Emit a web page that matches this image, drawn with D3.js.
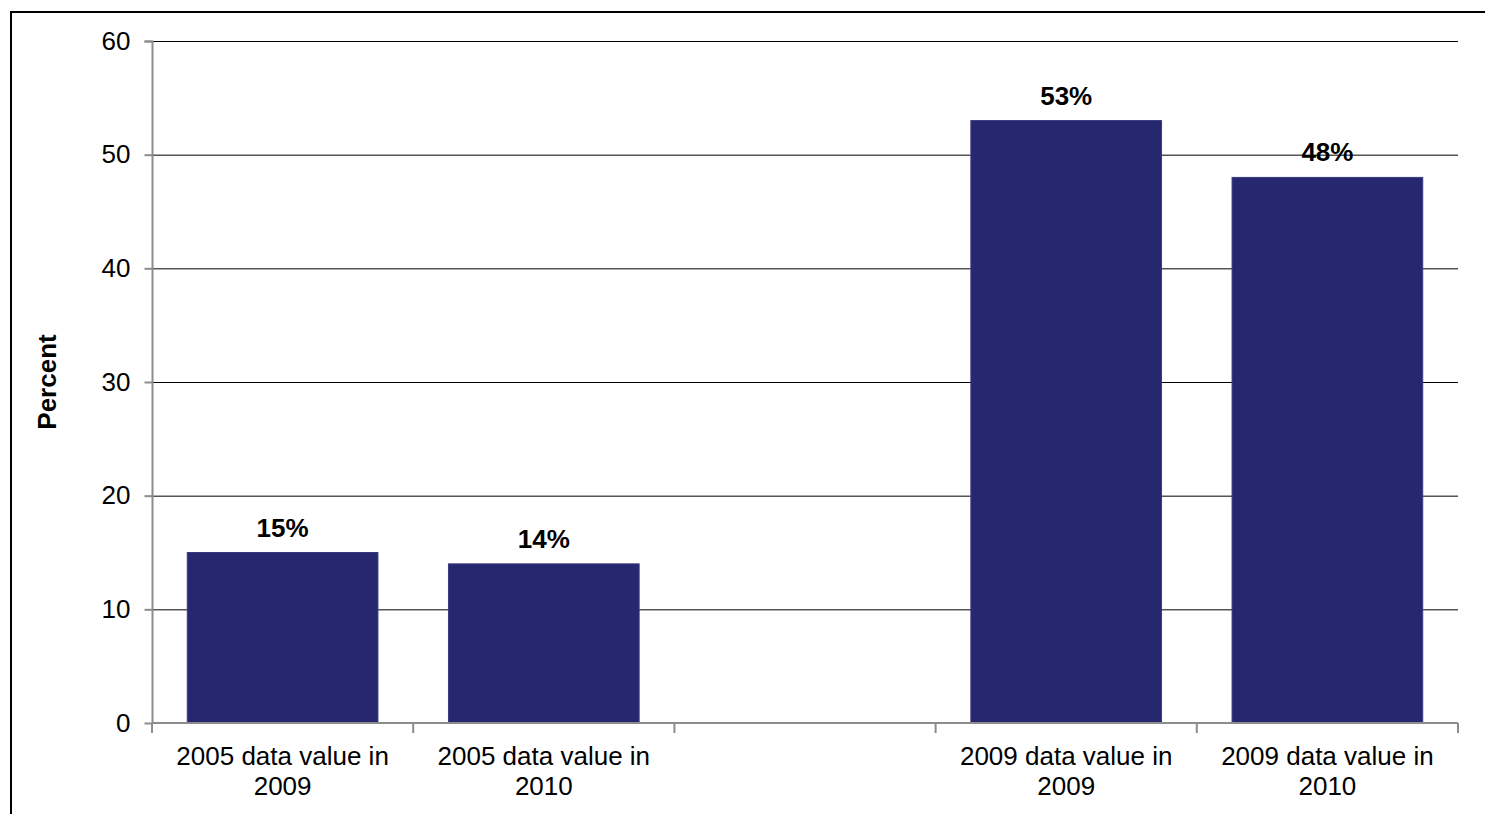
<!DOCTYPE html>
<html>
<head>
<meta charset="utf-8">
<script src="https://cdn.jsdelivr.net/npm/d3@7"></script>
<style>
  html, body { margin: 0; padding: 0; background: #fff; }
  svg { display: block; font-family: "Liberation Sans", Arial, sans-serif; }
</style>
</head>
<body>
<svg id="chart" width="1485" height="814"></svg>
<script>
// Category slots along the x axis (the middle slot is intentionally empty)
const categories = [
  ["2005 data value in", "2009"],
  ["2005 data value in", "2010"],
  ["", ""],
  ["2009 data value in", "2009"],
  ["2009 data value in", "2010"]
];
const values = [15, 14, null, 53, 48];
const yTicks = [0, 10, 20, 30, 40, 50, 60];

const FS = 26;
const svg = d3.select("#chart");
const margin = { left: 152, right: 27, top: 41, bottom: 91 };
const W = 1485, H = 814;
const x0 = margin.left, x1 = W - margin.right;
const y0 = H - margin.bottom, y1 = margin.top;

// outer frame (left and top edges visible)
svg.append("path")
  .attr("d", `M11,${H} L11,12 L${W},12`)
  .attr("fill", "none").attr("stroke", "#000").attr("stroke-width", 2);

const x = d3.scaleBand().domain(d3.range(categories.length)).range([x0, x1]).padding(0);
const y = d3.scaleLinear().domain([0, 60]).range([y0, y1]);

// horizontal gridlines
svg.append("g").selectAll("line")
  .data(yTicks.filter(t => t > 0))
  .join("line")
  .attr("x1", x0).attr("x2", x1)
  .attr("y1", d => y(d) + 0.5).attr("y2", d => y(d) + 0.5)
  .attr("stroke", "#000").attr("stroke-width", 1);

// bars
const barW = x.bandwidth() * 0.73;
const data = values.map((v, i) => ({ i, v })).filter(d => d.v != null);
svg.append("g").selectAll("rect")
  .data(data)
  .join("rect")
  .attr("x", d => x(d.i) + (x.bandwidth() - barW) / 2)
  .attr("width", barW)
  .attr("y", d => y(d.v))
  .attr("height", d => y(0) - y(d.v))
  .attr("fill", "#27276f")
  .attr("stroke", "#3a3a80").attr("stroke-width", 1);

// value labels
svg.append("g").selectAll("text")
  .data(data)
  .join("text")
  .attr("x", d => x(d.i) + x.bandwidth() / 2)
  .attr("y", d => y(d.v) - 16)
  .attr("text-anchor", "middle")
  .attr("font-size", FS).attr("font-weight", "bold").attr("fill", "#000")
  .text(d => d.v + "%");

// y axis
const yAxis = d3.axisLeft(y).tickValues(yTicks).tickSize(8).tickPadding(14);
const gy = svg.append("g").attr("transform", `translate(${x0 + 0.5},0)`).call(yAxis);
gy.attr("font-size", FS).attr("font-family", "Liberation Sans, Arial, sans-serif");
gy.select(".domain").attr("stroke", "#8c8c8c").attr("stroke-width", 2).attr("d", `M-8,${y1 + 0.5}H0V${y0}`);
gy.selectAll(".tick line").attr("stroke", "#8c8c8c").attr("stroke-width", 2);
gy.selectAll(".tick text").attr("fill", "#000");

// x axis
const xEdges = d3.range(categories.length + 1).map(i => x0 + i * x.bandwidth());
const gx = svg.append("g");
gx.append("line").attr("x1", x0).attr("x2", x1).attr("y1", y0).attr("y2", y0)
  .attr("stroke", "#8c8c8c").attr("stroke-width", 2);
gx.selectAll("line.tk").data(xEdges).join("line").attr("class", "tk")
  .attr("x1", d => d).attr("x2", d => d).attr("y1", y0).attr("y2", y0 + 10)
  .attr("stroke", "#8c8c8c").attr("stroke-width", 2);
const xl = gx.selectAll("text").data(categories).join("text")
  .attr("text-anchor", "middle")
  .attr("font-size", FS).attr("fill", "#000")
  .attr("transform", (d, i) => `translate(${x(i) + x.bandwidth() / 2},${y0 + 42})`);
xl.append("tspan").attr("x", 0).attr("dy", 0).text(d => d[0]);
xl.append("tspan").attr("x", 0).attr("dy", 30).text(d => d[1]);

// y axis title
svg.append("text")
  .attr("transform", `translate(56,${(y0 + y1) / 2}) rotate(-90)`)
  .attr("text-anchor", "middle")
  .attr("font-size", FS).attr("font-weight", "bold").attr("fill", "#000")
  .text("Percent");
</script>
</body>
</html>
